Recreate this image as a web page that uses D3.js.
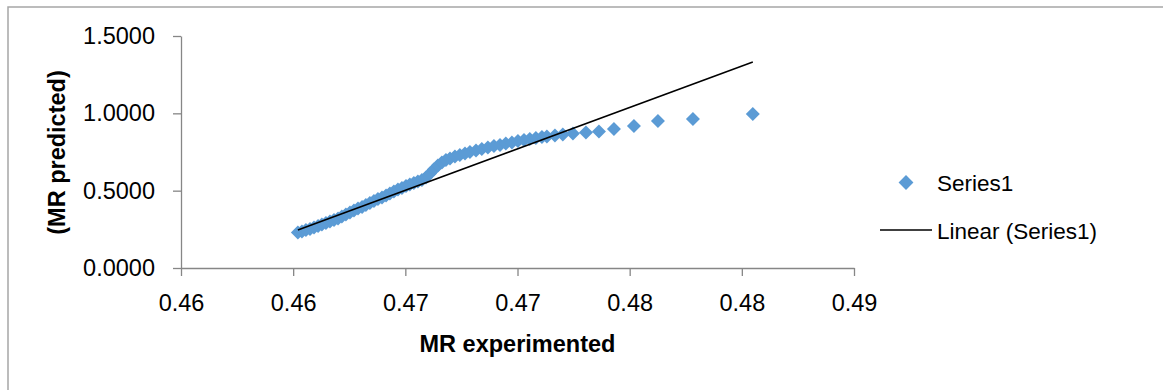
<!DOCTYPE html>
<html>
<head>
<meta charset="utf-8">
<script src="https://cdn.jsdelivr.net/npm/d3@7"></script>
<style>
  html, body { margin: 0; padding: 0; background: #fff; }
  svg { display: block; }
  text { font-family: "Liberation Sans", Arial, sans-serif; fill: #000; }
</style>
</head>
<body>
<div id="chart"></div>
<script>
// MR experimented (x) / MR predicted (y)
const mrExperimented = [
  0.46021, 0.46039, 0.46057, 0.46075, 0.46093, 0.46111, 0.46128, 0.46146, 0.46164, 0.46182,
  0.46200, 0.46217, 0.46235, 0.46253, 0.46271, 0.46289, 0.46307, 0.46324, 0.46342, 0.46360,
  0.46378, 0.46396, 0.46414, 0.46431, 0.46449, 0.46467, 0.46485, 0.46503, 0.46520, 0.46538,
  0.46556, 0.46574, 0.46592, 0.46610, 0.46627, 0.46645, 0.46663, 0.46681, 0.46699, 0.46721,
  0.46743, 0.46766, 0.46788, 0.46815, 0.46841, 0.46868, 0.46895, 0.46922, 0.46948, 0.46975,
  0.47002, 0.47029, 0.47055, 0.47082, 0.47109, 0.47131, 0.47167, 0.47202, 0.47247, 0.47305,
  0.47363, 0.47430, 0.47519, 0.47626, 0.47782, 0.48049
];
const mrPredicted = [
  0.2295, 0.2360, 0.2457, 0.2521, 0.2618, 0.2715, 0.2812, 0.2909, 0.3006, 0.3103,
  0.3200, 0.3330, 0.3459, 0.3588, 0.3718, 0.3847, 0.3944, 0.4073, 0.4203, 0.4332,
  0.4461, 0.4558, 0.4687, 0.4817, 0.4946, 0.5075, 0.5172, 0.5302, 0.5399, 0.5496,
  0.5593, 0.5690, 0.5851, 0.6110, 0.6368, 0.6627, 0.6821, 0.6983, 0.7080, 0.7209,
  0.7306, 0.7403, 0.7500, 0.7597, 0.7694, 0.7791, 0.7888, 0.7953, 0.8050, 0.8114,
  0.8211, 0.8276, 0.8340, 0.8405, 0.8470, 0.8502, 0.8567, 0.8631, 0.8696, 0.8761,
  0.8825, 0.8987, 0.9181, 0.9504, 0.9633, 0.9957
];

// Linear (Series1) trendline endpoints
const trendX = [0.46021, 0.48049];
const trendY = [0.246, 1.332];

const xTickValues = [0.455, 0.46, 0.465, 0.47, 0.475, 0.48, 0.485];
const xTickLabels = ['0.46', '0.46', '0.47', '0.47', '0.48', '0.48', '0.49'];
const yTickValues = [0, 0.5, 1.0, 1.5];

const config = {
  totalWidth: 1163,
  totalHeight: 390,
  plot: {left: 181, right: 854, top: 36, bottom: 268},
  pointColor: '#5b9bd5',
  axisColor: '#868686',
  fontSize: 23.5
};

const x = d3.scaleLinear()
  .domain([xTickValues[0], xTickValues[xTickValues.length - 1]])
  .range([config.plot.left, config.plot.right]);
const y = d3.scaleLinear()
  .domain([0, 1.5])
  .range([config.plot.bottom, config.plot.top]);

const svg = d3.select('#chart').append('svg')
  .attr('width', config.totalWidth)
  .attr('height', config.totalHeight);

// chart area border (right and bottom edges fall outside the picture)
svg.append('rect')
  .attr('x', 8)
  .attr('y', 7)
  .attr('width', 1160)
  .attr('height', 400)
  .attr('fill', '#fff')
  .attr('stroke', '#a6a6a6')
  .attr('stroke-width', 1.5);

// axes
const yAxis = svg.append('g')
  .attr('transform', `translate(${config.plot.left},0)`)
  .call(d3.axisLeft(y).tickValues(yTickValues).tickFormat(d3.format('.4f'))
    .tickSize(8).tickSizeOuter(0).tickPadding(18));
const xAxis = svg.append('g')
  .attr('transform', `translate(0,${config.plot.bottom})`)
  .call(d3.axisBottom(x).tickValues(xTickValues).tickFormat((d, i) => xTickLabels[i])
    .tickSize(8).tickSizeOuter(0).tickPadding(18));

[xAxis, yAxis].forEach(g => {
  g.selectAll('path, line').attr('stroke', config.axisColor).attr('stroke-width', 1.3);
  g.selectAll('text')
    .style('font-family', '"Liberation Sans", Arial, sans-serif')
    .style('font-size', config.fontSize + 'px')
    .attr('fill', '#000');
});

// scatter points
const diamond = d3.symbol(d3.symbolSquare, 98);
svg.append('g')
  .selectAll('path')
  .data(d3.range(mrExperimented.length))
  .enter()
  .append('path')
  .attr('d', diamond)
  .attr('transform', i => `translate(${x(mrExperimented[i])},${y(mrPredicted[i])}) rotate(45)`)
  .attr('fill', config.pointColor);

// trendline
svg.append('path')
  .datum(d3.zip(trendX, trendY))
  .attr('fill', 'none')
  .attr('stroke', '#000')
  .attr('stroke-width', 1.5)
  .attr('d', d3.line().x(d => x(d[0])).y(d => y(d[1])));

// axis titles
svg.append('text')
  .attr('x', (config.plot.left + config.plot.right) / 2)
  .attr('y', 352)
  .attr('text-anchor', 'middle')
  .style('font-size', '23.5px')
  .style('font-weight', 'bold')
  .text('MR experimented');

svg.append('text')
  .attr('transform', 'translate(65,152.5) rotate(-90)')
  .attr('text-anchor', 'middle')
  .style('font-size', '23.5px')
  .style('font-weight', 'bold')
  .text('(MR predicted)');

// legend
const legend = svg.append('g');
legend.append('path')
  .attr('d', d3.symbol(d3.symbolSquare, 110))
  .attr('transform', 'translate(906,182.5) rotate(45)')
  .attr('fill', config.pointColor);
legend.append('text')
  .attr('x', 937)
  .attr('y', 190.5)
  .style('font-size', '22.5px')
  .text('Series1');
legend.append('line')
  .attr('x1', 880)
  .attr('x2', 932)
  .attr('y1', 230)
  .attr('y2', 230)
  .attr('stroke', '#000')
  .attr('stroke-width', 1.5);
legend.append('text')
  .attr('x', 937)
  .attr('y', 239)
  .style('font-size', '22.5px')
  .text('Linear (Series1)');
</script>
</body>
</html>
